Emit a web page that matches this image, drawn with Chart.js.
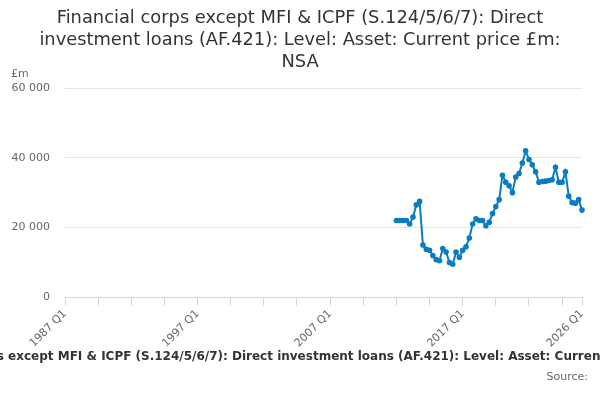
<!DOCTYPE html>
<html>
<head>
<meta charset="utf-8">
<script src="https://cdn.jsdelivr.net/npm/chart.js@4.4.1/dist/chart.umd.min.js"></script>
<style>
  html, body { margin: 0; padding: 0; background: #fff; }
  #wrap { width: 600px; height: 400px; position: relative; }
</style>
</head>
<body>
<div id="wrap"><canvas id="c" width="600" height="400"></canvas></div>
<script>
// Axis range: quarterly categories from 1987 Q1 to 2026 Q1
const firstYear = 1987;
const lastYear = 2026;
const labelledTicks = ['1987 Q1', '1997 Q1', '2007 Q1', '2017 Q1', '2026 Q1'];
const yTicks = [0, 20000, 40000, 60000];

// Series: first observation 2012 Q1
const seriesStart = '2012 Q1';
const seriesValues = [
  22000, 22000, 22000, 22000, 21000, 23000, 26500, 27500,
  15000, 13800, 13500, 12000, 10800, 10500, 14000, 13000,
  10000, 9500, 13000, 11500, 13500, 14500, 17000, 21000,
  22500, 22000, 22000, 20500, 21500, 24000, 26000, 28000,
  35000, 33000, 32000, 30000, 34500, 35500, 38500, 42000,
  39500, 38000, 36000, 33000, 33200, 33300, 33500, 33700,
  37300, 33000, 33000, 36000, 29000, 27200, 27000, 28000,
  25000
];

const titleLines = [
  'Financial corps except MFI & ICPF (S.124/5/6/7): Direct',
  'investment loans (AF.421): Level: Asset: Current price £m:',
  'NSA'
];
const xAxisTitle = 'Financial corps except MFI & ICPF (S.124/5/6/7): Direct investment loans (AF.421): Level: Asset: Current price £m: NSA';
const sourceText = 'Source:';
const unitText = '£m';

// Build category labels
const quarters = [];
for (let y = firstYear; y <= lastYear; y++) {
  for (let q = 1; q <= 4; q++) {
    quarters.push(y + ' Q' + q);
    if (y === lastYear) break;
  }
}
const startIdx = quarters.indexOf(seriesStart);
const data = quarters.map((_, i) => (i >= startIdx && i - startIdx < seriesValues.length) ? seriesValues[i - startIdx] : null);
const lastIdx = quarters.length - 1;

const fontFamily = "'DejaVu Sans'";
Chart.defaults.font.family = fontFamily;
const axisColor = '#ccd6eb';

const textPlugin = {
  id: 'extraText',
  afterDraw(chart) {
    const ctx = chart.ctx;
    ctx.save();
    ctx.textBaseline = 'middle';

    ctx.font = '17.85px ' + fontFamily;
    ctx.fillStyle = '#333';
    ctx.textAlign = 'center';
    titleLines.forEach((line, i) => ctx.fillText(line, chart.width / 2, 18 + i * 22));

    ctx.font = '11px ' + fontFamily;
    ctx.fillStyle = '#666';
    ctx.textAlign = 'left';
    ctx.fillText(unitText, 11, chart.chartArea.top - 14);

    ctx.font = 'bold 12px ' + fontFamily;
    ctx.fillStyle = '#333';
    ctx.textAlign = 'center';
    ctx.fillText(xAxisTitle, chart.width / 2 + 4, 357);

    ctx.font = '11px ' + fontFamily;
    ctx.fillStyle = '#666';
    ctx.textAlign = 'right';
    ctx.fillText(sourceText, 588, 377);
    ctx.restore();
  }
};

new Chart(document.getElementById('c'), {
  type: 'line',
  data: {
    labels: quarters,
    datasets: [{
      data: data,
      borderColor: '#0a7cc2',
      backgroundColor: '#0a7cc2',
      borderWidth: 2,
      pointRadius: 1.8,
      pointHoverRadius: 3,
      tension: 0,
      spanGaps: false
    }]
  },
  options: {
    responsive: false,
    animation: false,
    devicePixelRatio: 1,
    layout: { padding: { left: 0, right: 18, top: 88, bottom: 48 } },
    plugins: {
      legend: { display: false },
      tooltip: { enabled: false },
      title: { display: false }
    },
    scales: {
      x: {
        type: 'category',
        grid: {
          display: true,
          drawOnChartArea: false,
          drawTicks: true,
          tickLength: 8,
          color: (ctx) => (ctx.index % 10 === 0 || ctx.index === lastIdx) ? axisColor : 'rgba(0,0,0,0)'
        },
        border: { display: true, color: axisColor, width: 1 },
        ticks: {
          autoSkip: false,
          maxRotation: 45,
          minRotation: 45,
          color: '#666',
          font: { family: fontFamily, size: 11 },
          padding: 2,
          callback: function (val) {
            const lab = this.getLabelForValue(val);
            return labelledTicks.includes(lab) ? lab : '';
          }
        }
      },
      y: {
        min: 0,
        max: 60000,
        afterBuildTicks: (scale) => { scale.ticks = yTicks.map(v => ({ value: v })); },
        afterFit: (scale) => { scale.width = 65; },
        grid: { color: '#e6e6e6', drawTicks: false, lineWidth: 1 },
        border: { display: false },
        ticks: {
          color: '#666',
          font: { family: fontFamily, size: 11 },
          padding: 15,
          callback: (v) => String(v).replace(/\B(?=(\d{3})+(?!\d))/g, ' ')
        }
      }
    }
  },
  plugins: [textPlugin]
});
</script>
</body>
</html>
